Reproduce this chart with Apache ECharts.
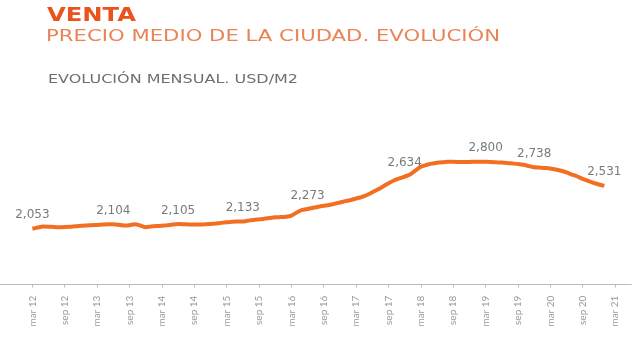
<!DOCTYPE html>
<html>
<head>
<meta charset="utf-8">
<script src="https://cdn.jsdelivr.net/npm/echarts@6/dist/echarts.min.js"></script>
<style>
  html, body { margin: 0; padding: 0; background: #fff; }
  #chart { width: 640px; height: 338px; }
</style>
</head>
<body>
<div id="chart"></div>
<script>
// Monthly average sale price, USD per m2, from mar 12 to ene 21
const monthNames = ['ene', 'feb', 'mar', 'abr', 'may', 'jun', 'jul', 'ago', 'sep', 'oct', 'nov', 'dic'];
const firstYear = 2011, firstMonth = 8;   // axis starts at sep 11
const lastYear = 2021, lastMonth = 5;     // axis ends at jun 21
const dataStart = 'mar 12';

const priceValues = [
  2053, 2066, 2078, 2076, 2072, 2070, 2072, 2075, 2081, 2085, 2090, 2092,
  2095, 2099, 2103, 2104, 2096, 2088, 2092, 2103, 2089, 2070, 2078, 2083,
  2086, 2092, 2099, 2105, 2103, 2100, 2099, 2100, 2102, 2105, 2111, 2118,
  2124, 2130, 2132, 2133, 2143, 2151, 2157, 2163, 2172, 2180, 2183, 2187,
  2200, 2234, 2262, 2273, 2286, 2298, 2308, 2317, 2331, 2345, 2360, 2373,
  2390, 2406, 2429, 2459, 2490, 2524, 2559, 2590, 2613, 2634, 2657, 2702,
  2744, 2763, 2778, 2788, 2794, 2799, 2799, 2797, 2796, 2797, 2799, 2800,
  2800, 2797, 2793, 2790, 2786, 2780, 2774, 2766, 2752, 2738, 2734, 2730,
  2724, 2713, 2699, 2680, 2657, 2635, 2609, 2585, 2563, 2546, 2531
];

// Points whose value is written above the line
const labelledMonths = ['mar 12', 'jun 13', 'jun 14', 'jun 15', 'jun 16', 'dic 17', 'mar 19', 'dic 19', 'ene 21'];

const tickLabels = [
  'mar 12', 'sep 12', 'mar 13', 'sep 13', 'mar 14', 'sep 14', 'mar 15', 'sep 15', 'mar 16',
  'sep 16', 'mar 17', 'sep 17', 'mar 18', 'sep 18', 'mar 19', 'sep 19', 'mar 20', 'sep 20', 'mar 21'
];

const titleMain = 'VENTA';
const titleSub = 'PRECIO MEDIO DE LA CIUDAD. EVOLUCIÓN';
const titleUnit = 'EVOLUCIÓN MENSUAL. USD/M2';

// Month categories for the whole axis
const categories = [];
for (let y = firstYear, m = firstMonth; y < lastYear || (y === lastYear && m <= lastMonth); ) {
  categories.push(monthNames[m] + ' ' + String(y).slice(2));
  m++;
  if (m === 12) { m = 0; y++; }
}

const offset = categories.indexOf(dataStart);
const seriesData = categories.map((c, i) => {
  const k = i - offset;
  if (k < 0 || k >= priceValues.length) return null;
  const item = { value: priceValues[k] };
  if (labelledMonths.indexOf(c) >= 0) item.label = { show: true };
  return item;
});

// Horizontal stretch so the headings keep their wide letterforms
const measureCtx = document.createElement('canvas').getContext('2d');
function stretch(text, font, width) {
  measureCtx.font = font;
  return width / measureCtx.measureText(text).width;
}

const fontMain = 'bold 20px "DejaVu Sans"';
const fontSub = '15px "DejaVu Sans"';
const fontUnit = '12.5px "DejaVu Sans"';

const chart = echarts.init(document.getElementById('chart'), null, { renderer: 'canvas' });
chart.setOption({
  backgroundColor: '#ffffff',
  animation: false,
  graphic: [
    {
      type: 'text', x: 47, y: 15.5, scaleX: stretch(titleMain, fontMain, 89),
      style: { text: titleMain, font: fontMain, fill: '#e8531e', verticalAlign: 'middle', align: 'left' }
    },
    {
      type: 'text', x: 46, y: 37, scaleX: stretch(titleSub, fontSub, 454),
      style: { text: titleSub, font: fontSub, fill: '#e98458', verticalAlign: 'middle', align: 'left' }
    },
    {
      type: 'text', x: 48, y: 79.5, scaleX: stretch(titleUnit, fontUnit, 250),
      style: { text: titleUnit, font: fontUnit, fill: '#6f6f6f', verticalAlign: 'middle', align: 'left' }
    }
  ],
  grid: { left: -2.5, right: 8.7, top: 143.75, bottom: 53.4, containLabel: false },
  xAxis: {
    type: 'category',
    data: categories,
    boundaryGap: false,
    axisLine: { onZero: false, lineStyle: { color: '#bdbdbd', width: 1 } },
    axisTick: {
      show: true, length: 3,
      interval: (i, v) => tickLabels.indexOf(v) >= 0,
      lineStyle: { color: '#bdbdbd' }
    },
    axisLabel: {
      interval: (i, v) => tickLabels.indexOf(v) >= 0,
      rotate: 90,
      margin: 11,
      color: '#9a9a9a',
      fontFamily: 'Lato',
      fontSize: 10,
      padding: [6, 0, 0, 0]
    },
    splitLine: { show: false }
  },
  yAxis: {
    type: 'value',
    min: 1430,
    max: 3000,
    show: false,
    splitLine: { show: false }
  },
  series: [{
    type: 'line',
    data: seriesData,
    smooth: 0.2,
    showSymbol: true,
    showAllSymbol: true,
    symbol: 'circle',
    symbolSize: 1,
    itemStyle: { color: 'rgba(242,111,33,0)', borderWidth: 0 },
    connectNulls: false,
    lineStyle: { color: '#f26f21', width: 4 },
    label: {
      show: false,
      position: 'top',
      distance: 7,
      color: '#7a7a7a',
      fontFamily: 'DejaVu Sans',
      fontSize: 12,
      formatter: p => p.value.toLocaleString('en-US')
    },
    labelLayout: { hideOverlap: false },
    emphasis: { disabled: true }
  }]
});
</script>
</body>
</html>
